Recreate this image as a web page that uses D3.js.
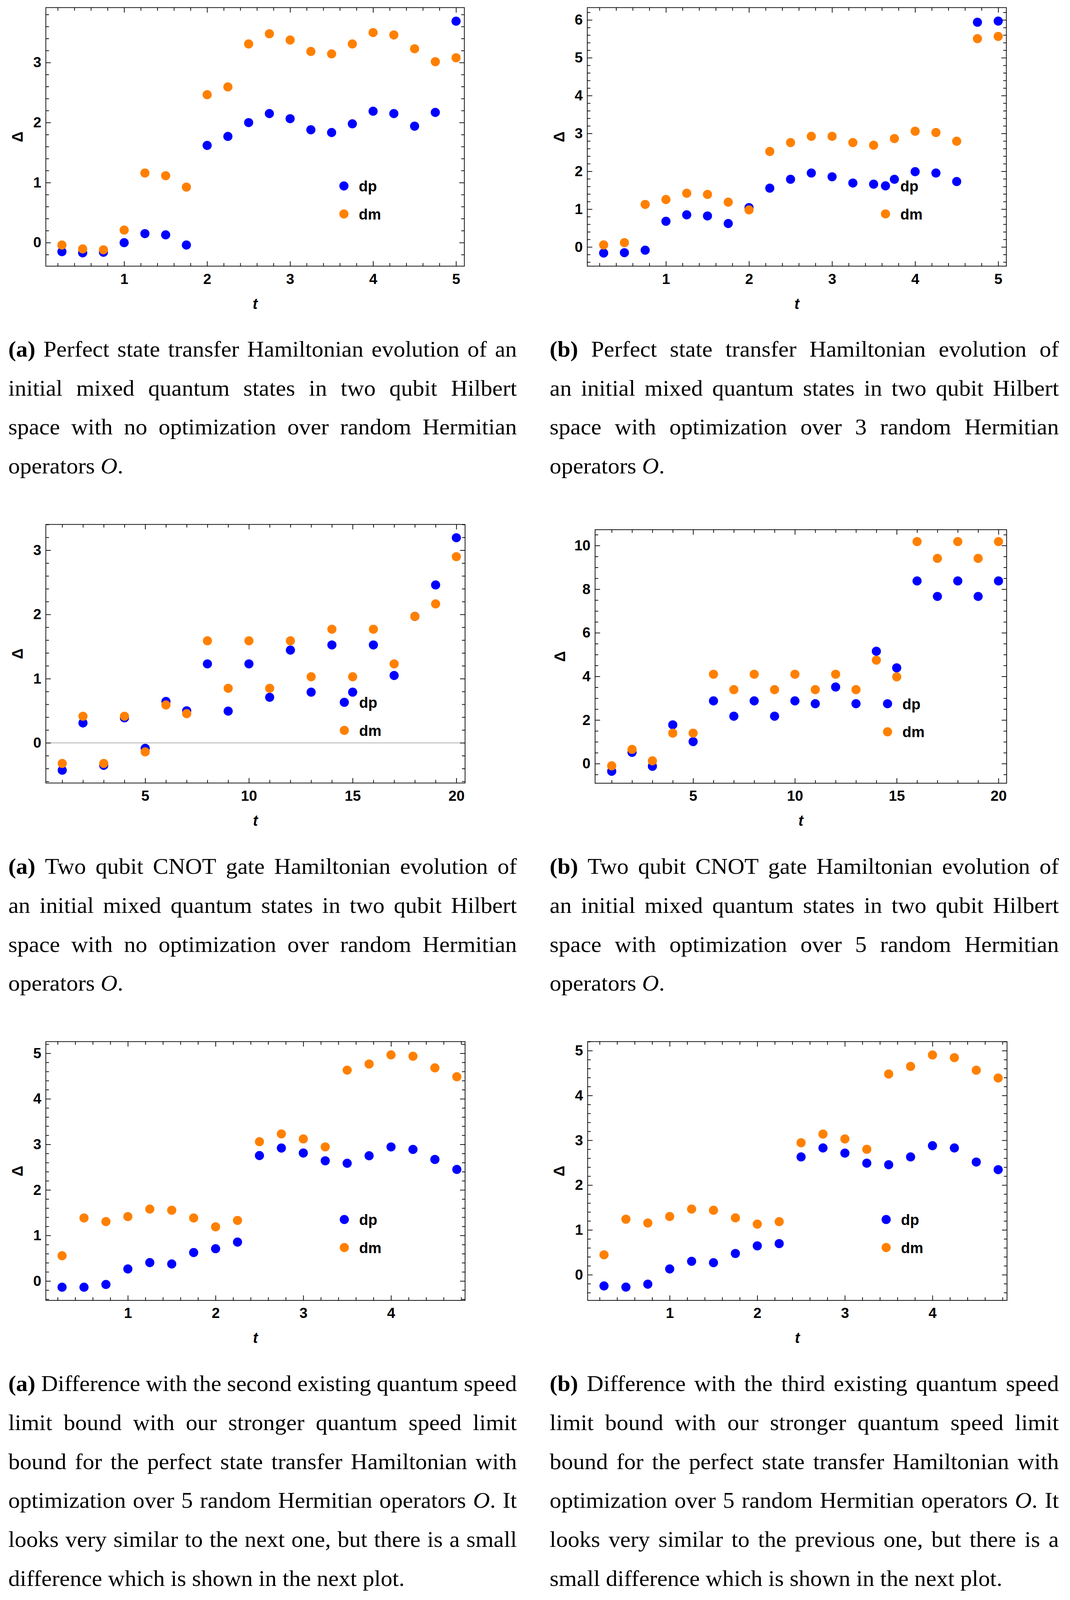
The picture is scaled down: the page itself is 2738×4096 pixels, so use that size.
<!DOCTYPE html>
<html><head><meta charset="utf-8">
<script src="https://cdn.jsdelivr.net/npm/d3@7"></script>
<style>
html,body{margin:0;padding:0;background:#fff;}
svg{display:block;}
</style></head><body>
<svg id="c" width="2738" height="4096"></svg>
<script>
// ---------------- DATA ----------------
const tPST = [0.25,0.5,0.75,1,1.25,1.5,1.75,2,2.25,2.5,2.75,3,3.25,3.5,3.75,4,4.25,4.5,4.75,5];
const tCNOT = [1,2,3,4,5,6,7,8,9,10,11,12,13,14,15,16,17,18,19,20];
const tQSL = [0.25,0.5,0.75,1,1.25,1.5,1.75,2,2.25,2.5,2.75,3,3.25,3.5,3.75,4,4.25,4.5,4.75];

const dpA1 = [-0.15,-0.17,-0.16,0.0,0.15,0.13,-0.04,1.62,1.77,2.0,2.15,2.065,1.88,1.835,1.98,2.19,2.15,1.94,2.17,3.69];
const dmA1 = [-0.04,-0.105,-0.12,0.21,1.16,1.115,0.925,2.465,2.595,3.31,3.48,3.375,3.185,3.145,3.31,3.50,3.46,3.23,3.015,3.08];

const dpB1 = [-0.16,-0.15,-0.085,0.68,0.85,0.82,0.62,1.04,1.555,1.79,1.955,1.855,1.69,1.66,1.79,1.99,1.955,1.73,5.94,5.97];
const dmB1 = [0.055,0.115,1.125,1.255,1.42,1.39,1.185,0.98,2.525,2.76,2.925,2.925,2.76,2.69,2.865,3.06,3.025,2.795,5.505,5.565];

const dpA2 = [-0.425,0.31,-0.35,0.39,-0.085,0.645,0.50,1.23,0.495,1.23,0.71,1.445,0.79,1.525,0.79,1.525,1.05,1.97,2.46,3.195];
const dmA2 = [-0.32,0.415,-0.32,0.415,-0.14,0.59,0.455,1.59,0.85,1.59,0.85,1.59,1.03,1.77,1.03,1.77,1.23,1.97,2.165,2.90];

const dpB2 = [-0.35,0.52,-0.12,1.78,1.01,2.88,2.175,2.88,2.175,2.88,2.75,3.515,2.75,5.155,4.395,8.38,7.67,8.38,7.67,8.38];
const dmB2 = [-0.10,0.655,0.13,1.40,1.40,4.10,3.395,4.10,3.395,4.10,3.395,4.10,3.395,4.745,3.98,10.185,9.415,10.185,9.415,10.185];

const dpA3 = [-0.135,-0.135,-0.075,0.265,0.405,0.375,0.625,0.71,0.855,2.755,2.92,2.81,2.64,2.585,2.75,2.945,2.89,2.67,2.45];
const dmA3 = [0.555,1.385,1.305,1.415,1.58,1.555,1.385,1.19,1.33,3.06,3.23,3.12,2.945,4.63,4.765,4.965,4.935,4.68,4.485];

const dpB3 = [-0.25,-0.275,-0.21,0.13,0.30,0.27,0.475,0.645,0.695,2.63,2.83,2.715,2.49,2.455,2.63,2.88,2.83,2.515,2.345];
const dmB3 = [0.445,1.24,1.155,1.30,1.465,1.44,1.27,1.13,1.185,2.945,3.14,3.03,2.80,4.48,4.65,4.905,4.845,4.565,4.39];

const xTicksPST = [1,2,3,4,5];
const xTicksCNOT = [5,10,15,20];
const xTicksQSL = [1,2,3,4];
const yTicksA1 = [0,1,2,3];
const yTicksB1 = [0,1,2,3,4,5,6];
const yTicksA2 = [0,1,2,3];
const yTicksB2 = [0,2,4,6,8,10];
const yTicksQSL = [0,1,2,3,4,5];

const seriesNames = ["dp","dm"];
const axisLabelX = "t";
const axisLabelY = "\u0394";

const capA1 = ["(a) Perfect state transfer Hamiltonian evolution of an",
  "initial mixed quantum states in two qubit Hilbert",
  "space with no optimization over random Hermitian",
  "operators O."];
const capB1 = ["(b) Perfect state transfer Hamiltonian evolution of",
  "an initial mixed quantum states in two qubit Hilbert",
  "space with optimization over 3 random Hermitian",
  "operators O."];
const capA2 = ["(a) Two qubit CNOT gate Hamiltonian evolution of",
  "an initial mixed quantum states in two qubit Hilbert",
  "space with no optimization over random Hermitian",
  "operators O."];
const capB2 = ["(b) Two qubit CNOT gate Hamiltonian evolution of",
  "an initial mixed quantum states in two qubit Hilbert",
  "space with optimization over 5 random Hermitian",
  "operators O."];
const capA3 = ["(a) Difference with the second existing quantum speed",
  "limit bound with our stronger quantum speed limit",
  "bound for the perfect state transfer Hamiltonian with",
  "optimization over 5 random Hermitian operators O. It",
  "looks very similar to the next one, but there is a small",
  "difference which is shown in the next plot."];
const capB3 = ["(b) Difference with the third existing quantum speed",
  "limit bound with our stronger quantum speed limit",
  "bound for the perfect state transfer Hamiltonian with",
  "optimization over 5 random Hermitian operators O. It",
  "looks very similar to the previous one, but there is a",
  "small difference which is shown in the next plot."];

// ---------------- LAYOUT (reference pixel units) ----------------
const S = 2738/3749;
const SANS = "'Liberation Sans', Arial, Helvetica, sans-serif";
const SERIF = "'Liberation Serif', 'Times New Roman', serif";
const BLUE = "#0000ff", ORANGE = "#ff8000";

const panels = [
  {L:160.6,R:1627,T:26.6,B:933, xd:[0.056,5.1], yd:[-0.392,3.916], t:tPST, dp:dpA1, dm:dmA1, xt:xTicksPST, xm:0.2, yt:yTicksA1, ym:0.2, leg:[1205,651.7], dX:62, lY:1083},
  {L:2057.7,R:3526,T:26.6,B:933, xd:[0.053,5.098], yd:[-0.507,6.327], t:tPST, dp:dpB1, dm:dmB1, xt:xTicksPST, xm:0.2, yt:yTicksB1, ym:0.2, leg:[3102.5,651.5], dX:1959.5, lY:1083},
  {L:160.6,R:1629.5,T:1838.3,B:2744.7, xd:[0.21,20.42], yd:[-0.625,3.402], t:tCNOT, dp:dpA2, dm:dmA2, xt:xTicksCNOT, xm:1, yt:yTicksA2, ym:0.2, leg:[1206.4,2461.8], dX:61.5, lY:2895, zero:true},
  {L:2085,R:3527,T:1856.7,B:2745.4, xd:[0.184,20.40], yd:[-0.897,10.73], t:tCNOT, dp:dpB2, dm:dmB2, xt:xTicksCNOT, xm:1, yt:yTicksB2, ym:0.5, leg:[3109.7,2466.8], dX:1961.5, lY:2895},
  {L:160.6,R:1629.5,T:3651.1,B:4558.2, xd:[0.065,4.844], yd:[-0.425,5.257], t:tQSL, dp:dpA3, dm:dmA3, xt:xTicksQSL, xm:0.2, yt:yTicksQSL, ym:0.2, leg:[1206.4,4274.7], dX:61, lY:4708},
  {L:2058.9,R:3528.3,T:3651.1,B:4558.2, xd:[0.063,4.851], yd:[-0.572,5.203], t:tQSL, dp:dpB3, dm:dmB3, xt:xTicksQSL, xm:0.2, yt:yTicksQSL, ym:0.2, leg:[3104.9,4274.7], dX:1959, lY:4708}
];

const svg = d3.select('#c');
const root = svg.append('g').attr('transform', `scale(${S})`);

const MAJ = 17.5, MIN = 11, SW = 2.5, TFS = 51, R = 16;

function minorVals(domain, step, majors) {
  const a = Math.ceil(domain[0]/step - 1e-9), b = Math.floor(domain[1]/step + 1e-9);
  return d3.range(a, b+1).map(i => +(i*step).toFixed(6))
    .filter(v => !majors.some(m => Math.abs(m - v) < 1e-6));
}

function styleAxis(g) {
  g.select('.domain').remove();
  g.selectAll('.tick line').attr('stroke', '#000').attr('stroke-width', SW);
  g.attr('font-family', SANS).attr('font-size', TFS).attr('font-weight', 'bold');
  g.selectAll('.tick text').attr('fill', '#000');
}

panels.forEach(p => {
  const g = root.append('g');
  const x = d3.scaleLinear().domain(p.xd).range([p.L, p.R]);
  const y = d3.scaleLinear().domain(p.yd).range([p.B, p.T]);
  const xmin = minorVals(p.xd, p.xm, p.xt);
  const ymin = minorVals(p.yd, p.ym, p.yt);

  if (p.zero) {
    g.append('line').attr('x1', p.L).attr('x2', p.R).attr('y1', y(0)).attr('y2', y(0))
      .attr('stroke', '#9a9a9a').attr('stroke-width', 2);
  }

  // major ticks with labels
  g.append('g').attr('transform', `translate(${p.L},0)`)
    .call(d3.axisLeft(y).tickValues(p.yt).tickSize(-MAJ).tickPadding(16).tickFormat(d3.format('d'))).call(styleAxis);
  g.append('g').attr('transform', `translate(0,${p.B})`)
    .call(d3.axisBottom(x).tickValues(p.xt).tickSize(-MAJ).tickPadding(26).tickFormat(d3.format('d'))).call(styleAxis);
  g.append('g').attr('transform', `translate(${p.R},0)`)
    .call(d3.axisRight(y).tickValues(p.yt).tickSize(-MAJ).tickFormat('')).call(styleAxis);
  g.append('g').attr('transform', `translate(0,${p.T})`)
    .call(d3.axisTop(x).tickValues(p.xt).tickSize(-MAJ).tickFormat('')).call(styleAxis);
  // minor ticks
  g.append('g').attr('transform', `translate(${p.L},0)`)
    .call(d3.axisLeft(y).tickValues(ymin).tickSize(-MIN).tickFormat('')).call(styleAxis);
  g.append('g').attr('transform', `translate(${p.R},0)`)
    .call(d3.axisRight(y).tickValues(ymin).tickSize(-MIN).tickFormat('')).call(styleAxis);
  g.append('g').attr('transform', `translate(0,${p.B})`)
    .call(d3.axisBottom(x).tickValues(xmin).tickSize(-MIN).tickFormat('')).call(styleAxis);
  g.append('g').attr('transform', `translate(0,${p.T})`)
    .call(d3.axisTop(x).tickValues(xmin).tickSize(-MIN).tickFormat('')).call(styleAxis);

  // frame
  g.append('rect').attr('x', p.L).attr('y', p.T).attr('width', p.R - p.L).attr('height', p.B - p.T)
    .attr('fill', 'none').attr('stroke', '#000').attr('stroke-width', SW);

  // points: dp first, dm on top
  g.append('g').selectAll('circle').data(p.t.map((t, i) => [t, p.dp[i]])).join('circle')
    .attr('cx', d => x(d[0])).attr('cy', d => y(d[1])).attr('r', R).attr('fill', BLUE);
  g.append('g').selectAll('circle').data(p.t.map((t, i) => [t, p.dm[i]])).join('circle')
    .attr('cx', d => x(d[0])).attr('cy', d => y(d[1])).attr('r', R).attr('fill', ORANGE);

  // legend
  [BLUE, ORANGE].forEach((c, i) => {
    const cy = p.leg[1] + i*98.3;
    g.append('circle').attr('cx', p.leg[0]).attr('cy', cy).attr('r', R).attr('fill', c);
    g.append('text').attr('x', p.leg[0] + 52).attr('y', cy + 19.3)
      .attr('font-family', SANS).attr('font-size', 52).attr('font-weight', 'bold').text(seriesNames[i]);
  });

  // axis labels
  g.append('text').attr('transform', `translate(${p.dX},${(p.T + p.B)/2}) rotate(-90)`)
    .attr('text-anchor', 'middle').attr('dominant-baseline', 'central')
    .attr('font-family', SANS).attr('font-size', 52).attr('font-weight', 'bold').text(axisLabelY);
  g.append('text').attr('x', (p.L + p.R)/2).attr('y', p.lY).attr('text-anchor', 'middle')
    .attr('font-family', SANS).attr('font-size', 52).attr('font-weight', 'bold').attr('font-style', 'italic').text(axisLabelX);
});

// ---------------- CAPTIONS ----------------
const CFS = 78, LH = 136.6;
function addWord(t, w) {
  if (/^\([ab]\)$/.test(w)) t.append('tspan').attr('font-weight', 'bold').text(w);
  else if (w === 'O.') { t.append('tspan').attr('font-style', 'italic').text('O'); t.append('tspan').text('.'); }
  else t.text(w);
}
// width calibration to the reference's "operators O." (403 px)
const tmp = root.append('g');
const m1 = tmp.append('text').attr('font-family', SERIF).attr('font-size', CFS).text('operators');
const m2 = tmp.append('text').attr('font-family', SERIF).attr('font-size', CFS); addWord(m2, 'O.');
const natural = m1.node().getComputedTextLength() + 0.25*CFS + m2.node().getComputedTextLength();
tmp.remove();
const K = 403 / natural;

function drawCaption(x0, W, y0, lines) {
  const g = root.append('g').attr('transform', `translate(${x0},0) scale(${K},1)`);
  const Wu = W / K;
  lines.forEach((line, i) => {
    const words = line.split(' ');
    const yy = y0 + i*LH;
    const nodes = words.map(w => {
      const t = g.append('text').attr('y', yy).attr('font-family', SERIF).attr('font-size', CFS).attr('fill', '#000');
      addWord(t, w);
      return t;
    });
    const widths = nodes.map(n => n.node().getComputedTextLength());
    const sum = d3.sum(widths);
    const last = i === lines.length - 1;
    const gap = (last || words.length < 2) ? CFS*0.25 : (Wu - sum)/(words.length - 1);
    let cx = 0;
    nodes.forEach((n, j) => { n.attr('x', cx); cx += widths[j] + gap; });
  });
}
drawCaption(29, 1782, 1250, capA1);
drawCaption(1926, 1784, 1250, capB1);
drawCaption(29, 1782, 3063, capA2);
drawCaption(1926, 1784, 3063, capB2);
drawCaption(29, 1782, 4876, capA3);
drawCaption(1926, 1784, 4876, capB3);
</script>
</body></html>
